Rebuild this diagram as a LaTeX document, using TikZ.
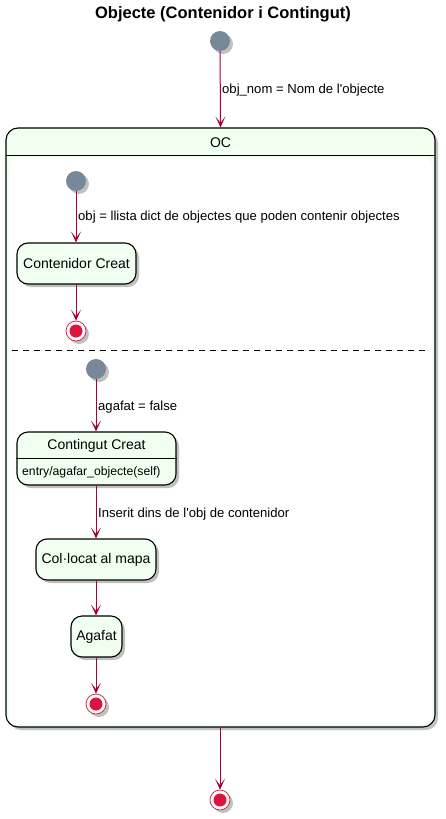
\documentclass[tikz,border=0pt]{standalone}
\usepackage{fontspec}
\setmainfont{Liberation Sans}
\usetikzlibrary{arrows.meta,shadows}
\definecolor{arr}{HTML}{A80036}
\definecolor{stfill}{HTML}{F1FFF1}
\definecolor{initc}{HTML}{778899}
\definecolor{finc}{HTML}{DC143C}
\begin{document}
\begin{tikzpicture}[x=1pt,y=-1pt,
 shd/.style={drop shadow={shadow xshift=3pt,shadow yshift=-3pt,opacity=0.35,fill=black!70}},
 st/.style={draw=black, line width=1.1pt, fill=stfill, rounded corners=11pt, shd, font=\fontsize{14}{16}\selectfont, inner sep=0pt},
 init/.style={circle, fill=initc, minimum size=20pt, inner sep=0pt, shd},
 fin/.style={circle, draw=finc, fill=white, minimum size=20pt, inner sep=0pt, line width=0.7pt, shd,
   path picture={\fill[finc] (path picture bounding box.center) circle (6.5pt);}},
 tr/.style={draw=arr, line width=1pt, -{Stealth[length=11pt,width=10pt,inset=6.5pt]}},
 lbl/.style={font=\fontsize{13.1}{15}\selectfont, anchor=west, inner sep=0pt}
]
\useasboundingbox (0,0) rectangle (446,819);
% title
\node[font=\bfseries\fontsize{16.5}{19}\selectfont] (title) at (223,14) {Objecte (Contenidor i Contingut)};
% top initial
\node[init] (i0) at (220,41) {};
% OC composite
\node[st, rounded corners=12pt, minimum width=429pt, minimum height=599pt] (oc) at (220.5,427.5) {};
\fill[white, rounded corners=8pt] (9,158) rectangle (432,724);
\draw[line width=1.1pt] (6,155.5) -- (435,155.5);
\node[font=\fontsize{14}{16}\selectfont] (octitle) at (220.5,142.5) {OC};
\draw[dashed, dash pattern=on 6pt off 5pt, line width=1pt] (12,350) -- (429,350);
% region 1
\node[init] (i1) at (76,181) {};
\node[st, minimum width=119pt, minimum height=41pt] (cc) at (76.5,263.5) {Contenidor Creat};
\node[fin] (f1) at (76,331) {};
% region 2
\node[init] (i2) at (96,369) {};
\node[st, minimum width=159pt, minimum height=53pt] (cg) at (96.5,458.5) {};
\draw[line width=1.1pt] (cg.west) -- (cg.east);
\node[font=\fontsize{14}{16}\selectfont] (cgt) at (96.5,446) {Contingut Creat};
\node[font=\fontsize{12.2}{14}\selectfont, anchor=west, inner sep=0pt] (cge) at (22,472.5) {entry/agafar\_objecte(self)};
\node[st, minimum width=120pt, minimum height=41pt] (cm) at (96,559.5) {Col·locat al mapa};
\node[st, minimum width=51pt, minimum height=41pt] (ag) at (96.5,636.5) {Agafat};
\node[fin] (f2) at (96,704) {};
% bottom final
\node[fin] (f0) at (220,800) {};
% transitions
\draw[tr] (i0) -- (oc.north);
\node[lbl] (l0) at (222,90) {obj\_nom = Nom de l\textquotesingle objecte};
\draw[tr] (i1) -- (cc.north -| i1);
\node[lbl] (l1) at (78,217) {obj = llista dict de objectes que poden contenir objectes};
\draw[tr] (cc.south -| f1) -- (f1);
\draw[tr] (i2) -- (cg.north -| i2);
\node[lbl] (l2) at (98,407) {agafat = false};
\draw[tr] (cg.south -| i2) -- (cm.north -| i2);
\node[lbl] (l3) at (98,514) {Inserit dins de l\textquotesingle obj de contenidor};
\draw[tr] (cm.south -| i2) -- (ag.north -| i2);
\draw[tr] (ag.south -| i2) -- (f2);
\draw[tr] (oc.south -| f0) -- (f0);
\end{tikzpicture}
\end{document}
